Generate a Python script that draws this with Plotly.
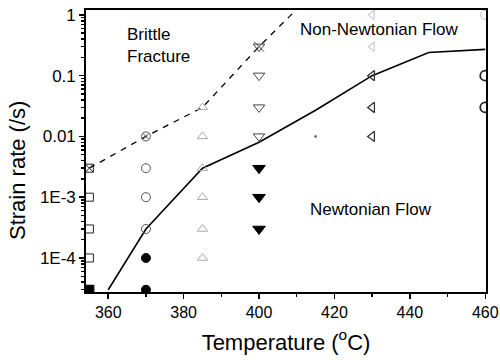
import plotly.graph_objects as go

# ---------------- data ----------------
# boundary lines
brittle_T = [355, 370, 385, 400, 415]
brittle_rate = [3e-3, 1e-2, 3e-2, 3e-1, 2.5]
newton_T = [360, 370, 385, 400, 415, 430, 445, 460]
newton_rate = [3e-5, 3e-4, 3e-3, 8e-3, 2.7e-2, 1e-1, 2.4e-1, 2.7e-1]

# test points per temperature
t355_open = [1e-3, 3e-4, 1e-4]
t355_cross = [3e-3]
t355_fill = [3e-5]
t370_open = [3e-3, 1e-3, 3e-4]
t370_cross = [1e-2]
t370_fill = [1e-4, 3e-5]
t385_open = [3e-2, 1e-2, 3e-3, 1e-3, 3e-4, 1e-4]
t400_open = [1e-1, 3e-2, 1e-2]
t400_cross = [3e-1]
t400_fill = [3e-3, 1e-3, 3e-4]
t415_open = [1e-2]
t430_open = [1.0, 3e-1, 1e-1, 3e-2, 1e-2]
t460_open = [1.0, 1e-1, 3e-2]

y_tickvals = [1, 0.1, 0.01, 1e-3, 1e-4]
y_ticktext = ["1", "0.1", "0.01", "1E-3", "1E-4"]
x_tickvals = [360, 380, 400, 420, 440, 460]

FONT = "Arial, Liberation Sans, Helvetica, sans-serif"

# plot-area box in pixels
PL, PR, PT, PB = 86, 486, 10, 292
PW, PH = PR - PL, PB - PT


def px(x, y):
    return (x - PL) / PW, (PB - y) / PH


fig = go.Figure()

fig.add_trace(go.Scatter(x=brittle_T, y=brittle_rate, mode="lines",
                         line=dict(color="black", width=1.3, dash="6px,6px")))
fig.add_trace(go.Scatter(x=newton_T, y=newton_rate, mode="lines",
                         line=dict(color="black", width=1.6)))


def pts(T, rates, symbol, size=9, color="#222", width=1.0):
    fig.add_trace(go.Scatter(
        x=[T] * len(rates), y=rates, mode="markers",
        marker=dict(symbol=symbol, size=size, color=color,
                    line=dict(color=color, width=width))))


pts(355, t355_open, "square-open", 8)
pts(355, t355_cross, "square-x-open", 8)
pts(355, t355_fill, "square", 9, color="black")
pts(370, t370_open, "circle-open", 9, color="#555")
pts(370, t370_cross, "circle-x-open", 9, color="#555")
pts(370, t370_fill, "circle", 9, color="black")
pts(385, t385_open, "triangle-up-open", 9, color="#aaa")
pts(400, t400_open, "triangle-down-open", 10, color="#444")
pts(400, t400_cross, "triangle-down-open", 10, color="#444")
pts(400, t400_cross, "x-thin-open", 10, color="#444")
pts(400, t400_fill, "triangle-down", 11, color="black")
pts(415, t415_open, "circle", 2, color="#666")
pts(430, t430_open[:2], "triangle-left-open", 8, color="#bbb")
pts(430, t430_open[2:], "triangle-left-open", 9, color="#333", width=1.3)
pts(460, t460_open[:1], "circle-open", 9, color="#bbb")
pts(460, t460_open[1:], "circle-open", 10, color="#222", width=1.8)

ann = []
x0, y0 = px(17, 171)
ann.append(dict(text="Strain rate (/s)", textangle=-90, xref="paper", yref="paper",
                x=x0, y=y0, showarrow=False, font=dict(size=22),
                xanchor="center", yanchor="middle"))
x0, y0 = px(125, 45)
ann.append(dict(text="Brittle<br>Fracture", xref="paper", yref="paper", x=x0, y=y0,
                showarrow=False, xanchor="left", yanchor="middle", align="left",
                font=dict(size=17)))
x0, y0 = px(298, 30)
ann.append(dict(text="Non-Newtonian Flow", xref="paper", yref="paper", x=x0, y=y0,
                showarrow=False, xanchor="left", yanchor="middle", font=dict(size=17)))
x0, y0 = px(308, 209)
ann.append(dict(text="Newtonian Flow", xref="paper", yref="paper", x=x0, y=y0,
                showarrow=False, xanchor="left", yanchor="middle", font=dict(size=17)))

fig.update_layout(
    width=500, height=360,
    margin=dict(l=PL, r=500 - PR, t=PT, b=360 - PB),
    paper_bgcolor="white", plot_bgcolor="white",
    showlegend=False,
    font=dict(family=FONT, color="black", size=17),
    xaxis=dict(
        range=[354.1, 460.2], tickvals=x_tickvals,
        ticks="outside", ticklen=5, tickwidth=1.5, tickcolor="black",
        minor=dict(dtick=10, ticks="outside", ticklen=3, tickcolor="black"),
        showline=True, mirror=True, linewidth=1.8, linecolor="black",
        showgrid=False, zeroline=False,
        tickfont=dict(size=16), ticklabeloverflow="allow",
        title=dict(text="Temperature (<sup>o</sup>C)", font=dict(size=22), standoff=14),
        automargin=False,
    ),
    yaxis=dict(
        type="log", range=[-4.56, 0.08],
        tickvals=y_tickvals, ticktext=y_ticktext,
        ticks="outside", ticklen=5, tickwidth=1.5, tickcolor="black",
        minor=dict(dtick="D1", ticks="outside", ticklen=3, tickcolor="black"),
        showline=True, mirror=True, linewidth=1.8, linecolor="black",
        showgrid=False, zeroline=False,
        tickfont=dict(size=17), ticklabeloverflow="allow",
        automargin=False,
    ),
    annotations=ann,
)

fig.write_html("out.html",
               config={"displayModeBar": False, "staticPlot": True},
               post_script="document.body.style.margin='0';document.body.style.overflow='hidden';")
